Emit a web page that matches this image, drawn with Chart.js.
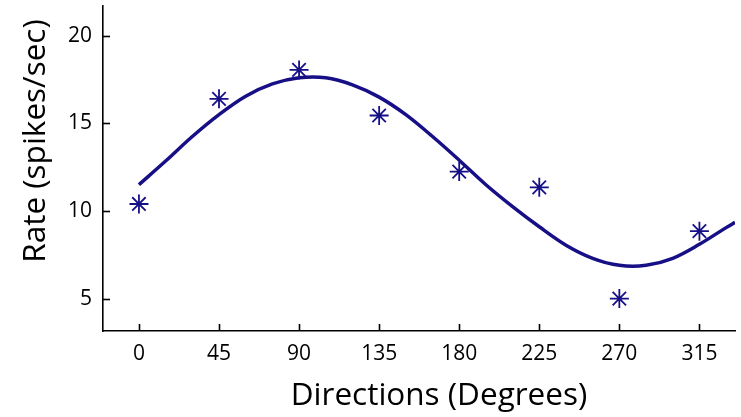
<!DOCTYPE html>
<html><head><meta charset="utf-8">
<script src="https://cdn.jsdelivr.net/npm/chart.js@4/dist/chart.umd.min.js"></script>
<style>html,body{margin:0;padding:0;background:#fff;}#wrap{width:741px;height:417px;}</style>
</head><body><div id="wrap"><canvas id="c" width="741" height="417"></canvas></div>
<script>
const directions = [0, 45, 90, 135, 180, 225, 270, 315];
const rates = [10.4, 16.4, 18.05, 15.45, 12.25, 11.35, 5.0, 8.85];
const fitX = [0, 15, 30, 45, 60, 75, 90, 105, 120, 135, 150, 165, 180, 195, 210, 225, 240, 255, 270, 285, 300, 315, 330, 335];
const fitY = [11.5, 12.85, 14.25, 15.5, 16.55, 17.25, 17.6, 17.6, 17.2, 16.5, 15.5, 14.25, 12.9, 11.5, 10.25, 9.1, 8.05, 7.3, 6.9, 6.9, 7.3, 8.1, 9.05, 9.35];
const xTicks = [0, 45, 90, 135, 180, 225, 270, 315];
const yTicks = [5, 10, 15, 20];
const xTitle = 'Directions (Degrees)';
const yTitle = 'Rate (spikes/sec)';

const NAVY = '#170f86';
const FONT = "'Open Sans', 'DejaVu Sans', sans-serif";

const decor = {
  id: 'decor',
  afterDraw(chart) {
    const ctx = chart.ctx, xs = chart.scales.x, ys = chart.scales.y, a = chart.chartArea;
    ctx.save();
    ctx.strokeStyle = '#000';
    ctx.lineWidth = 1.6;
    ctx.lineCap = 'butt';
    xTicks.forEach(v => {
      const p = Math.round(xs.getPixelForValue(v)) + 0.5;
      ctx.beginPath(); ctx.moveTo(p, a.bottom); ctx.lineTo(p, a.bottom - 7); ctx.stroke();
    });
    yTicks.forEach(v => {
      const p = Math.round(ys.getPixelForValue(v)) + 0.5;
      ctx.beginPath(); ctx.moveTo(a.left, p); ctx.lineTo(a.left + 7, p); ctx.stroke();
    });
    ctx.fillStyle = '#000';
    ctx.font = '31.5px ' + FONT;
    ctx.textAlign = 'center';
    ctx.textBaseline = 'middle';
    ctx.fillText(xTitle, 439, 396);
    ctx.translate(36, 141);
    ctx.rotate(-Math.PI / 2);
    ctx.fillText(yTitle, 0, 0);
    ctx.restore();
  }
};

function noPad(s) { s.paddingTop = 0; s.paddingBottom = 0; s.paddingLeft = 0; s.paddingRight = 0; }

new Chart(document.getElementById('c'), {
  type: 'scatter',
  data: {
    datasets: [
      {
        data: fitX.map((x, i) => ({x: x, y: fitY[i]})),
        showLine: true, borderColor: NAVY, borderWidth: 3.5, pointRadius: 0,
        tension: 0.35, fill: false
      },
      {
        data: directions.map((x, i) => ({x: x, y: rates[i]})),
        pointStyle: 'star', pointRadius: 9.5, borderColor: NAVY, borderWidth: 1.8,
        backgroundColor: NAVY, showLine: false
      }
    ]
  },
  options: {
    responsive: false, animation: false,
    layout: {autoPadding: false, padding: {top: 6, right: 6, left: 0, bottom: 0}},
    plugins: {legend: {display: false}, tooltip: {enabled: false}},
    scales: {
      x: {
        type: 'linear', min: -20.2, max: 335,
        afterBuildTicks: s => { s.ticks = xTicks.map(v => ({value: v})); },
        afterFit: s => { s.height = 86; noPad(s); },
        grid: {display: false, drawTicks: false},
        border: {display: true, color: '#000', width: 1.6},
        ticks: {color: '#000', font: {family: FONT, size: 21}, padding: 10, maxRotation: 0}
      },
      y: {
        type: 'linear', min: 3.15, max: 21.7,
        afterBuildTicks: s => { s.ticks = yTicks.map(v => ({value: v})); },
        afterFit: s => { s.width = 103; noPad(s); },
        grid: {display: false, drawTicks: false},
        border: {display: true, color: '#000', width: 1.6},
        ticks: {color: '#000', font: {family: FONT, size: 21}, padding: 11}
      }
    }
  },
  plugins: [decor]
});
</script>
</body></html>
